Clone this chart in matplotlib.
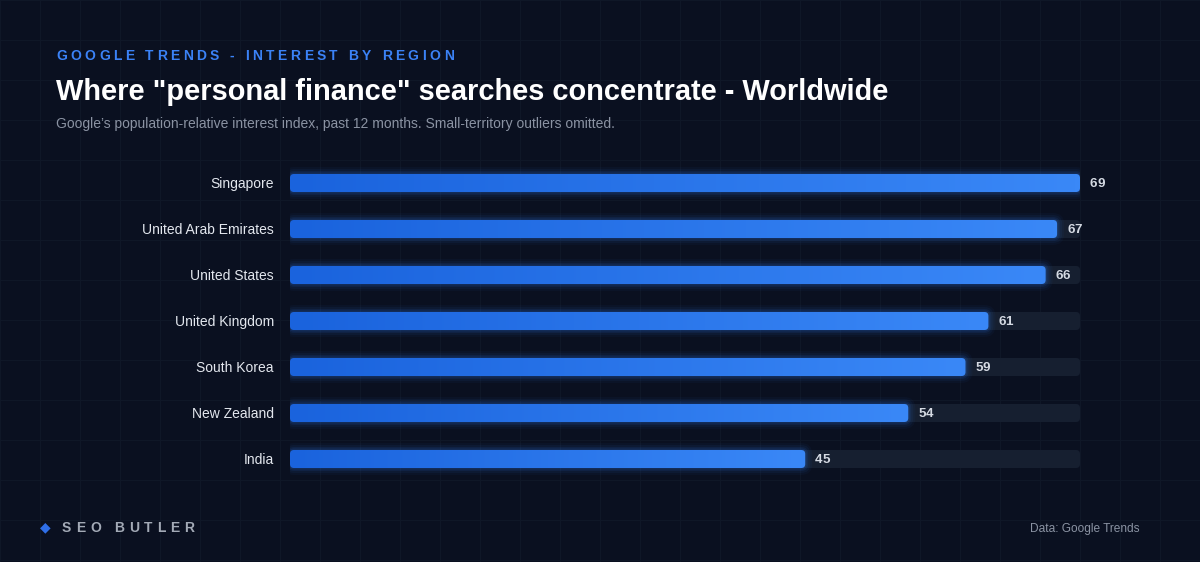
import numpy as np
import matplotlib
matplotlib.use("Agg")
import matplotlib.pyplot as plt
from matplotlib.patches import FancyBboxPatch
from matplotlib.colors import LinearSegmentedColormap
from matplotlib.font_manager import FontProperties
from matplotlib.transforms import offset_copy

# data
countries = ["Singapore", "United Arab Emirates", "United States", "United Kingdom",
             "South Korea", "New Zealand", "India"]
interest = [69, 67, 66, 61, 59, 54, 45]

kicker = "GOOGLE TRENDS - INTEREST BY REGION"
title = 'Where "personal finance" searches concentrate - Worldwide'
subtitle = "Google\u2019s population-relative interest index, past 12 months. Small-territory outliers omitted."
brand = "SEO BUTLER"
source = "Data: Google Trends"

BG = "#0a1020"
GRID = "#0f1727"
TRACK = "#161f30"
FONT = "Liberation Sans"

W, H = 1200, 562
fig = plt.figure(figsize=(W / 100, H / 100), dpi=100, facecolor=BG)

# background layer in pixel coords
bg = fig.add_axes([0, 0, 1, 1])
bg.set_xlim(0, W)
bg.set_ylim(H, 0)
bg.axis("off")
bg.set_facecolor(BG)
for gx in np.arange(0, W, 40):
    bg.axvline(gx, color=GRID, lw=0.8, zorder=0)
for gy in np.arange(0, H, 40):
    bg.axhline(gy, color=GRID, lw=0.8, zorder=0)

renderer = fig.canvas.get_renderer()


def spaced_text(ax, x, y, s, tracking, **kw):
    # matplotlib has no letter-spacing, so place each glyph by hand (offsets in pixels)
    prop = FontProperties(family=kw.get("family", FONT), size=kw.get("fontsize", 10),
                          weight=kw.get("fontweight", "normal"))
    base, _, _ = renderer.get_text_width_height_descent("xx", prop, ismath=False)
    dx = 0.0
    for ch in s:
        tr = offset_copy(ax.transData, fig=fig, x=dx, y=0, units="dots")
        ax.text(x, y, ch, ha="left", va="center", transform=tr, **kw)
        w, _, _ = renderer.get_text_width_height_descent("x" + ch + "x", prop, ismath=False)
        dx += (w - base) + tracking


spaced_text(bg, 56, 55.5, kicker, 3.45, family=FONT, fontsize=10, color="#3b82f6",
            fontweight="bold")
bg.text(56, 92, title, ha="left", va="center", family=FONT, fontsize=20.9,
        fontweight="bold", color="white")
bg.text(56, 124, subtitle, ha="left", va="center", family=FONT, fontsize=10,
        color="#8b93a3")

bg.text(45, 527, "\u25C6", ha="center", va="center", family="DejaVu Sans", fontsize=10,
        color="#2f6fe8")
spaced_text(bg, 62, 528, brand, 4.7, family=FONT, fontsize=10, color="#a3aab6",
            fontweight="bold")
bg.text(1140, 529, source, ha="right", va="center", family=FONT, fontsize=8.6,
        color="#8b93a3")

# bar axes: x from 290 to 1080 px, rows 46 px starting at 160 px
left, right, top, row = 290, 1080, 160, 46
n = len(countries)
ax = fig.add_axes([left / W, 1 - (top + row * n) / H, (right - left) / W, row * n / H])
ax.patch.set_alpha(0)
vmax = max(interest)
ax.set_xlim(0, vmax)
ax.set_ylim(n - 0.5, -0.5)
ax.axis("off")

px_x = vmax / (right - left)      # data units per pixel in x
px_y = 1.0 / row                 # data units per pixel in y
aspect = px_y / px_x
bh = 18 * px_y
rad = 4 * px_x

cmap = LinearSegmentedColormap.from_list("bar", ["#1a63dd", "#3a88f7"])
grad = np.linspace(0, 1, 256).reshape(1, -1)

for i, (name, v) in enumerate(zip(countries, interest)):
    # track
    ax.add_patch(FancyBboxPatch((0, i - bh / 2), vmax, bh,
                                boxstyle=f"round,pad=0,rounding_size={rad}",
                                mutation_aspect=aspect, fc=TRACK, ec="none", zorder=1))
    # glow
    for k, a in [(7, 0.04), (5, 0.06), (3, 0.09), (1.5, 0.12)]:
        ax.add_patch(FancyBboxPatch((-k * px_x, i - bh / 2 - k * px_y), v + 2 * k * px_x,
                                    bh + 2 * k * px_y,
                                    boxstyle=f"round,pad=0,rounding_size={rad + k * px_x}",
                                    mutation_aspect=aspect, fc="#2f7bf0", ec="none",
                                    alpha=a, zorder=2))
    bar = FancyBboxPatch((0, i - bh / 2), v, bh,
                         boxstyle=f"round,pad=0,rounding_size={rad}",
                         mutation_aspect=aspect, fc="none", ec="none", zorder=3)
    ax.add_patch(bar)
    im = ax.imshow(grad, cmap=cmap, aspect="auto", extent=(0, v, i + bh / 2, i - bh / 2),
                   zorder=3, interpolation="bicubic")
    im.set_clip_path(bar)

    spaced_text(ax, v + 10 * px_x, i + 1.2 * px_y, str(v), -0.3, family=FONT,
                fontsize=9.6, fontweight="bold", color="#d5dae3", zorder=4)
    ax.text(-16 * px_x, i + 1.2 * px_y, name, ha="right", va="center", family=FONT,
            fontsize=10, color="#e3e7ee", zorder=4)

ax.set_xlim(0, vmax)
ax.set_ylim(n - 0.5, -0.5)

fig.savefig("out.png", dpi=100, facecolor=BG)
